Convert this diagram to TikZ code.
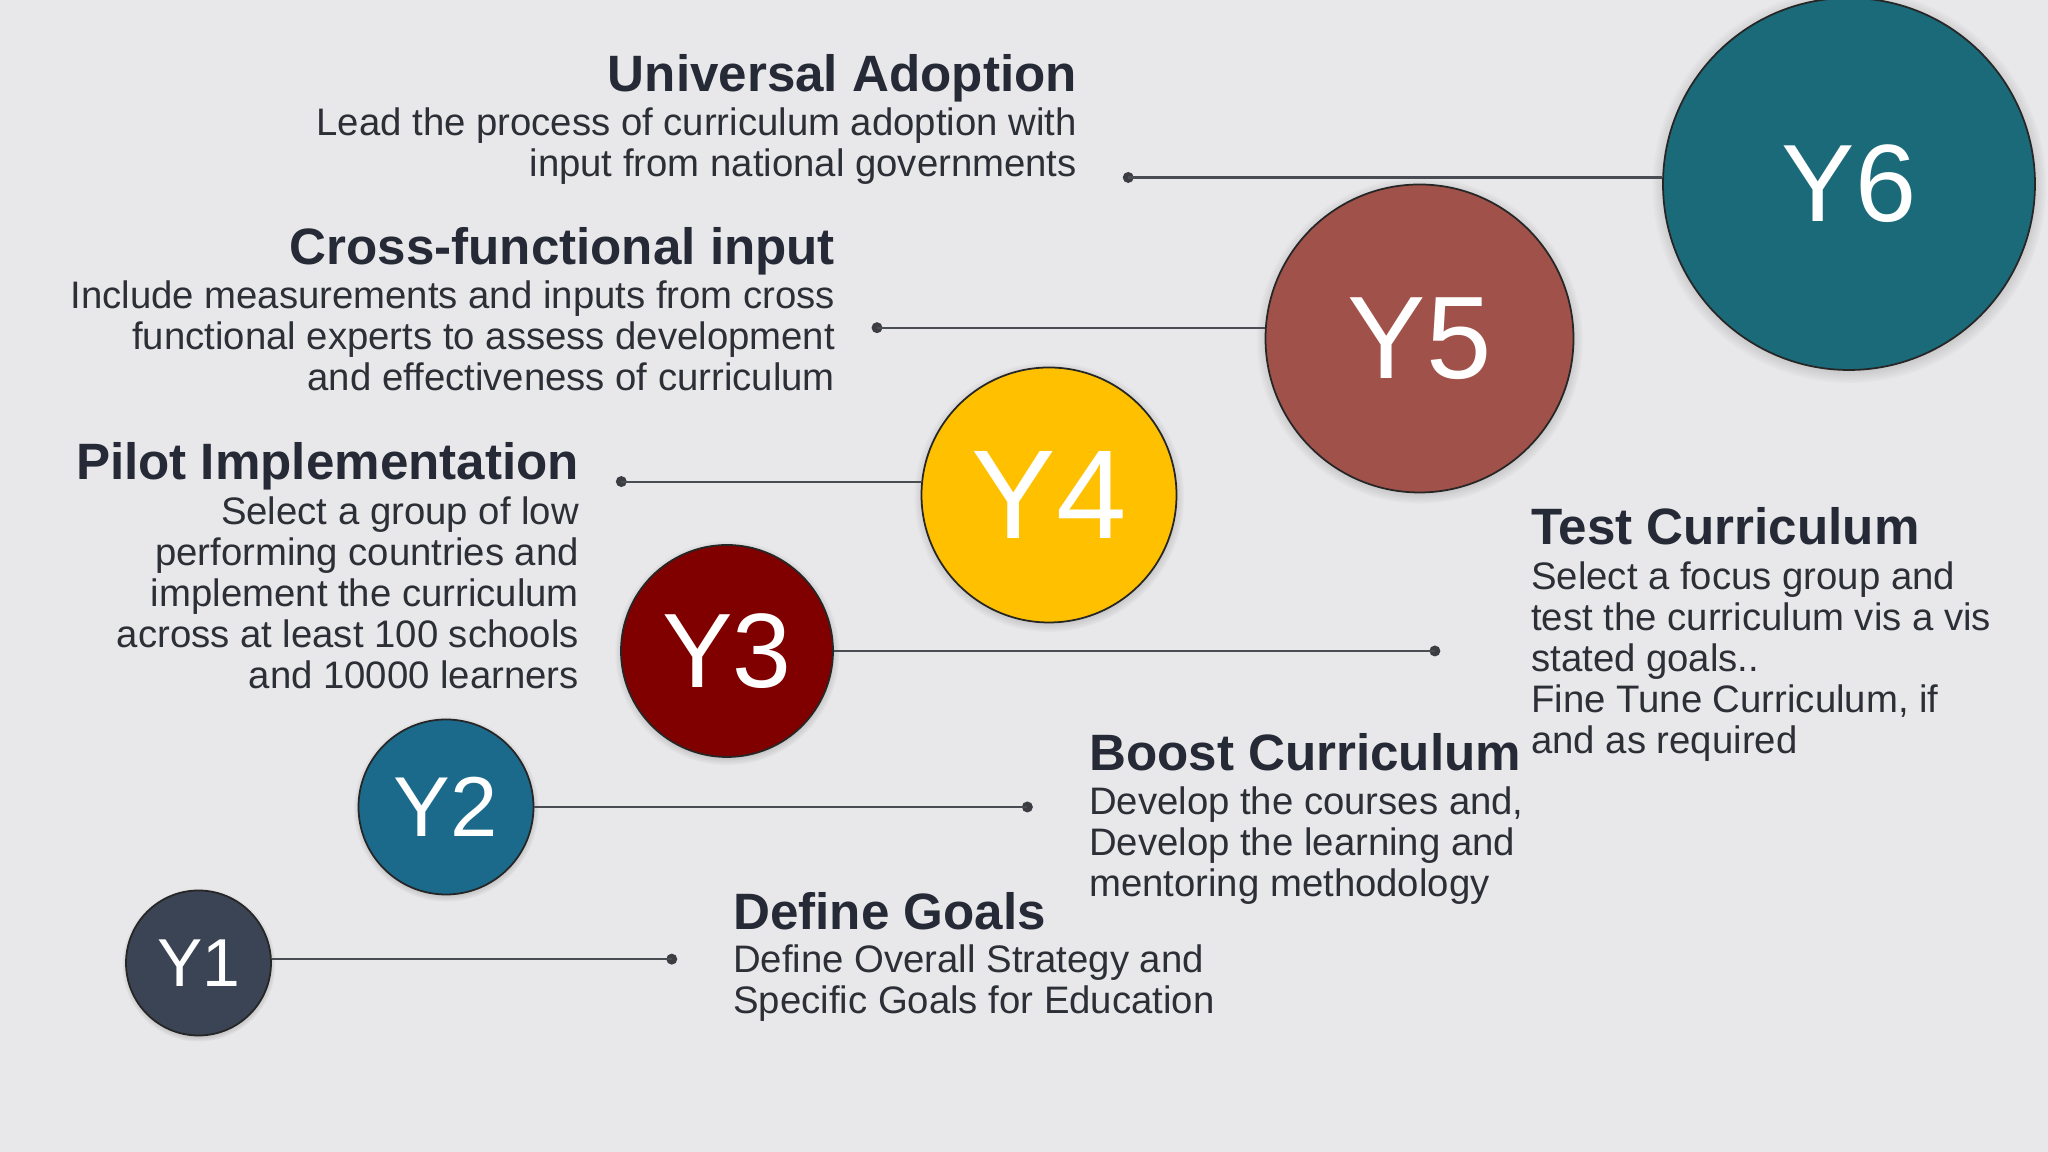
\documentclass[tikz,border=0pt]{standalone}
\usepackage{fontspec}
\setmainfont{Liberation Sans}
\usetikzlibrary{shadows,positioning}
\definecolor{bgpaper}{RGB}{232,232,234}
\definecolor{txtdark}{RGB}{38,41,54}
\definecolor{txtbody}{RGB}{45,47,55}
\definecolor{linegray}{RGB}{74,76,84}
\definecolor{yslate}{RGB}{58,68,84}
\definecolor{yblue}{RGB}{27,106,140}
\definecolor{ymaroon}{RGB}{128,0,0}
\definecolor{ygold}{RGB}{255,192,0}
\definecolor{yrust}{RGB}{160,82,74}
\definecolor{yteal}{RGB}{27,106,122}

\tikzset{
  yearball/.style={circle, draw=black!85, line width=0.5pt, text=white, inner sep=0pt,
    circular drop shadow={shadow xshift=0pt, shadow yshift=-0.5pt, shadow scale=1.06, opacity=0.65}},
  headtxt/.style={inner sep=0pt, text=txtdark, font=\fontsize{14.55}{16}\selectfont\bfseries},
  bodytxt/.style={inner sep=0pt, text=txtbody, font=\fontsize{10.9}{11.67}\selectfont},
  dotend/.style={circle, fill=linegray!80!black, inner sep=0pt, minimum size=1.1mm},
  link/.style={linegray, line width=0.6pt}
}

\begin{document}
\begin{tikzpicture}
\useasboundingbox (0,0) rectangle (20.48,11.52);
\fill[bgpaper] (0,0) rectangle (20.48,11.52);

% year circles
\node[yearball, fill=yslate, minimum size=1.45cm, font=\fontsize{19.3}{21}\selectfont] (Y1) at (1.985,1.89) {Y1};
\node[yearball, fill=yblue, minimum size=1.75cm, font=\fontsize{24.2}{26}\selectfont] (Y2) at (4.46,3.45) {Y2};
\node[yearball, fill=ymaroon, minimum size=2.12cm, font=\fontsize{30.1}{32}\selectfont] (Y3) at (7.27,5.01) {Y3};
\node[yearball, fill=ygold, minimum size=2.55cm, font=\fontsize{36}{38}\selectfont] (Y4) at (10.49,6.57) {Y4};
\node[yearball, fill=yrust, minimum size=3.08cm, font=\fontsize{33.4}{35}\selectfont] (Y5) at (14.195,8.135) {Y5};
\node[yearball, fill=yteal, minimum size=3.72cm, font=\fontsize{31.3}{33}\selectfont] (Y6) at (18.49,9.68) {Y6};

% connectors
\node[dotend] (d1) at ([xshift=4cm]Y1.3) {};
\node[dotend] (d2) at ([xshift=4.93cm]Y2.east) {};
\node[dotend] (d3) at ([xshift=6.01cm]Y3.east) {};
\node[dotend] (d4) at ([xshift=-3cm]Y4.174) {};
\node[dotend] (d5) at ([xshift=-3.88cm]Y5.176) {};
\node[dotend] (d6) at ([xshift=-5.34cm]Y6.178.5) {};
\draw[link] (Y1.3) -- (d1.center);
\draw[link] (Y2.east) -- (d2.center);
\draw[link] (Y3.east) -- (d3.center);
\draw[link] (Y4.174) -- (d4.center);
\draw[link] (Y5.176) -- (d5.center);
\draw[link] (Y6.178.5) -- (d6.center);

% texts (body nodes sit on their last line)
\node[headtxt, anchor=base west] (goals) at (7.326,2.227) {Define Goals};
\node[bodytxt, anchor=base west, align=left] (goalsb) at ([yshift=-0.847cm]goals.base west)
  {Define Overall Strategy and\\Specific Goals for Education};

\node[headtxt, anchor=base west] (boost) at (10.885,3.813) {Boost Curriculum};
\node[bodytxt, anchor=base west, align=left] (boostb) at ([yshift=-1.258cm]boost.base west)
  {Develop the courses and,\\Develop the learning and\\mentoring methodology};

\node[headtxt, anchor=base west] (test) at (15.306,6.07) {Test Curriculum};
\node[bodytxt, anchor=base west, align=left] (testb) at ([yshift=-2.082cm]test.base west)
  {Select a focus group and\\test the curriculum vis a vis\\stated goals..\\Fine Tune Curriculum, if\\and as required};

\node[headtxt, anchor=base east] (pilot) at (5.796,6.72) {Pilot Implementation};
\node[bodytxt, anchor=base east, align=right] (pilotb) at ([yshift=-2.082cm]pilot.base east)
  {Select a group of low\\performing countries and\\implement the curriculum\\across at least 100 schools\\and 10000 learners};

\node[headtxt, anchor=base east] (cross) at (8.357,8.87) {Cross-functional input};
\node[bodytxt, anchor=base east, align=right] (crossb) at ([yshift=-1.258cm]cross.base east)
  {Include measurements and inputs from cross\\functional experts to assess development\\and effectiveness of curriculum};

\node[headtxt, anchor=base east] (adopt) at (10.775,10.603) {Universal Adoption};
\node[bodytxt, anchor=base east, align=right] (adoptb) at ([yshift=-0.847cm]adopt.base east)
  {Lead the process of curriculum adoption with\\input from national governments};
\end{tikzpicture}
\end{document}
